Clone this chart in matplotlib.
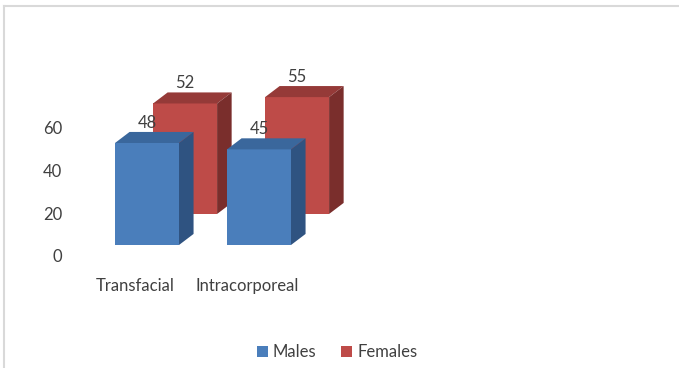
import matplotlib.pyplot as plt
from matplotlib.patches import Polygon
from matplotlib.lines import Line2D
from matplotlib.transforms import offset_copy

categories = ["Transfacial", "Intracorporeal"]
males = [48, 45]
females = [52, 55]
yticks = [0, 20, 40, 60]

plt.rcParams['font.family'] = ['Lato', 'DejaVu Sans']

fig = plt.figure(figsize=(6.79, 3.68), dpi=100)
# axes: x = category index (112 px per category), y = value (2.125 px per unit)
ax = fig.add_axes([35 / 679, 123 / 368, 336 / 679, 170 / 368])
ax.set_xlim(-1, 2)
ax.set_ylim(0, 80)
ax.axis('off')

w = 64 / 112            # bar width
ddx, ddy = 0.13, 5.2    # depth of the box
sx, sy = 0.34, 14.6     # back row (females) shift

colors = {
    'm': ('#4a7ebb', '#3a679c', '#2f5381'),
    'f': ('#be4b48', '#953a38', '#7a2e2c'),
}
fs = 12
txt = '#404040'


def box(x0, base, h, cols, z):
    front, top, side = cols
    x1 = x0 + w
    ax.bar(x0, h, width=w, bottom=base, align='edge', color=front,
           edgecolor='none', zorder=z)
    ax.add_patch(Polygon([(x0, base + h), (x1, base + h), (x1 + ddx, base + h + ddy),
                          (x0 + ddx, base + h + ddy)], closed=True, fc=top, ec='none',
                         zorder=z))
    ax.add_patch(Polygon([(x1, base), (x1 + ddx, base + ddy), (x1 + ddx, base + h + ddy),
                          (x1, base + h)], closed=True, fc=side, ec='none', zorder=z))


for i in range(len(categories)):
    box(i - w / 2 + sx, sy, females[i], colors['f'], 1)
    box(i - w / 2, 0, males[i], colors['m'], 2)
    ax.annotate(str(females[i]), (i + sx, sy + females[i]), xytext=(0, 14.5),
                textcoords='offset points', ha='center', va='center',
                fontsize=fs, color=txt, zorder=3)
    ax.annotate(str(males[i]), (i, males[i]), xytext=(0, 14.5),
                textcoords='offset points', ha='center', va='center',
                fontsize=fs, color=txt, zorder=3)
    ax.text(i, 0, categories[i], ha='center', va='center', fontsize=fs, color=txt,
            transform=offset_copy(ax.transData, fig=fig, x=-12, y=-41, units='dots'))

for v in yticks:
    ax.text(-1, v, str(v), ha='right', va='center', fontsize=fs, color=txt,
            transform=offset_copy(ax.transData, fig=fig, x=27, y=-12, units='dots'))

handles = [plt.Rectangle((0, 0), 1, 1, fc=colors['m'][0]),
           plt.Rectangle((0, 0), 1, 1, fc=colors['f'][0])]
fig.legend(handles, ['Males', 'Females'], loc='center',
           bbox_to_anchor=(337 / 679, 1 - 352 / 368), ncol=2, frameon=False,
           fontsize=fs, handlelength=0.65, handleheight=0.65, handletextpad=0.3,
           columnspacing=1.5, labelcolor=txt)

# light chart-area border (top and left)
fig.add_artist(Line2D([3.5 / 679, 3.5 / 679], [0, 1 - 5.5 / 368], color='#d9d9d9', lw=1.5))
fig.add_artist(Line2D([3.5 / 679, 1], [1 - 5.5 / 368, 1 - 5.5 / 368], color='#d9d9d9', lw=1.5))

fig.savefig('out.png', dpi=100)
